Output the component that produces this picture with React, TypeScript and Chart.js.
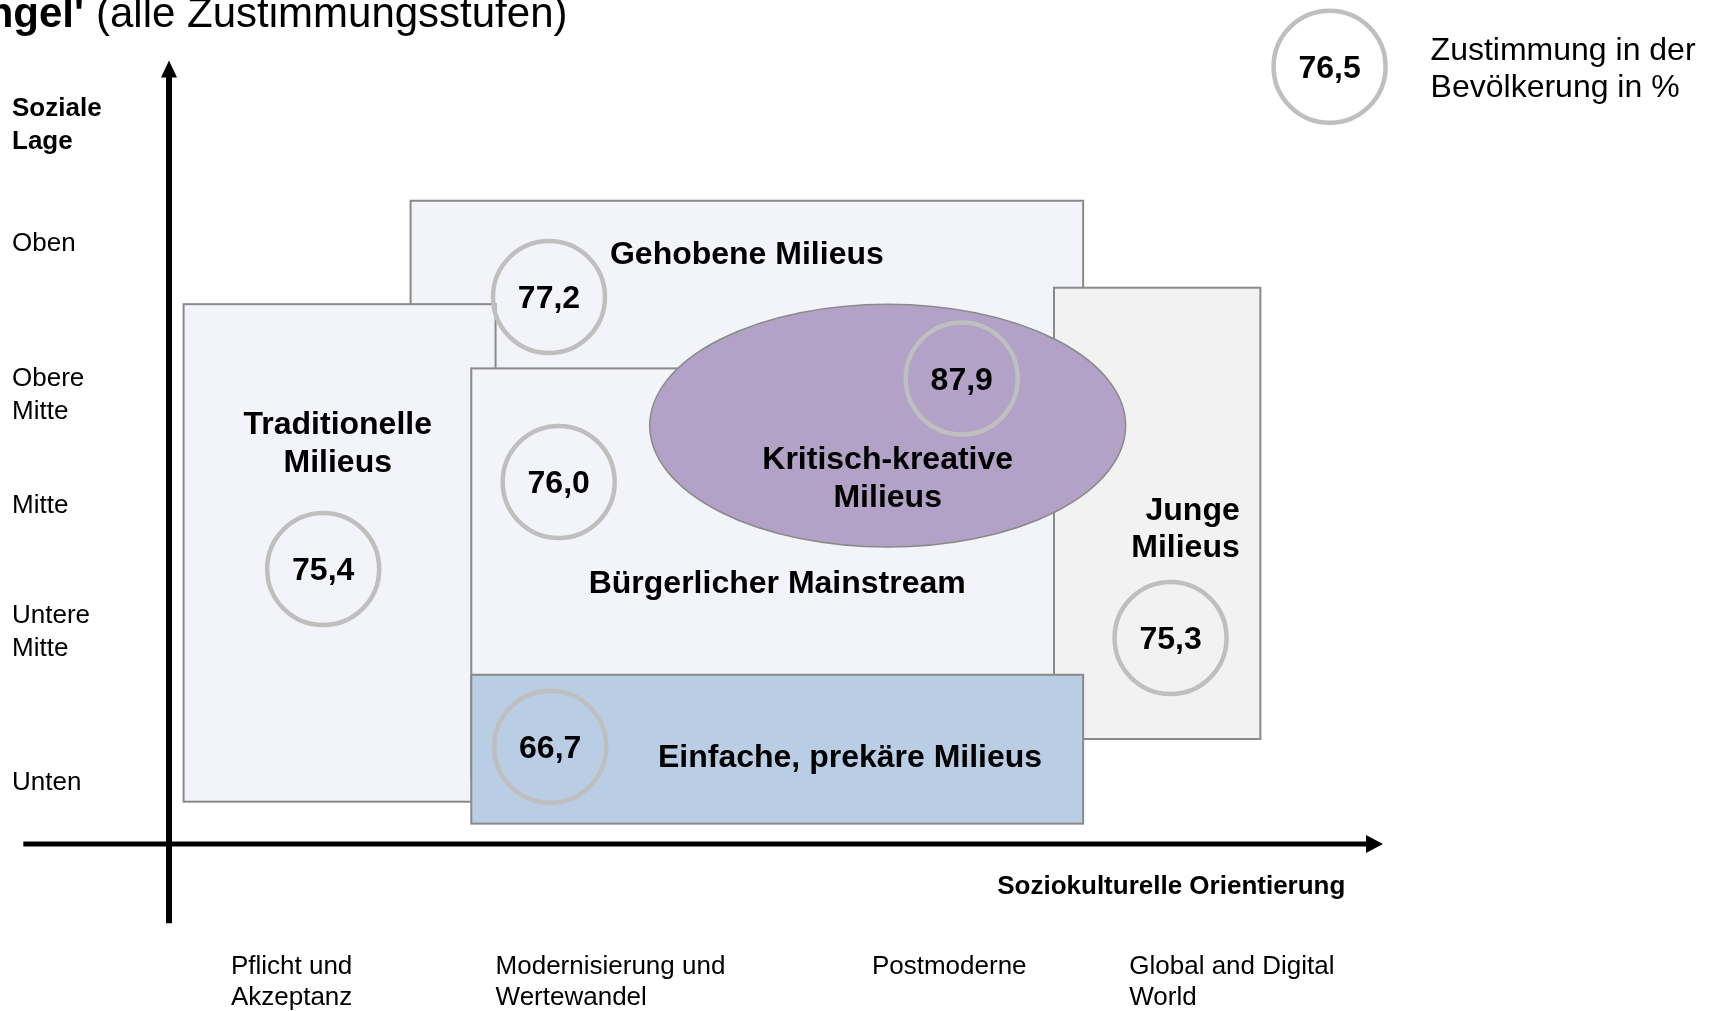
import React, { useEffect, useRef } from "react";
import { Chart, registerables } from "chart.js";

Chart.register(...registerables);

const FONT = '"Liberation Sans", Arial, Helvetica, sans-serif';

// ---------- DATA ----------
// Axes: x = Soziokulturelle Orientierung (0–100), y = Soziale Lage (0–100)
const milieuNames = [
  "Gehobene Milieus",
  "Traditionelle Milieus",
  "Bürgerlicher Mainstream",
  "Junge Milieus",
  "Einfache, prekäre Milieus",
  "Kritisch-kreative Milieus",
];
const milieuLabelLines = [
  ["Gehobene Milieus"],
  ["Traditionelle", "Milieus"],
  ["Bürgerlicher Mainstream"],
  ["Junge", "Milieus"],
  ["Einfache, prekäre Milieus"],
  ["Kritisch-kreative", "Milieus"],
];
const zustimmung = [77.2, 75.4, 76.0, 75.3, 66.7, 87.9];
const gesamtZustimmung = 76.5;
const legendLines = ["Zustimmung in der", "Bevölkerung in %"];

// extent of each milieu on the two axes
const orientFrom = [19.9, 1.2, 24.9, 72.9, 24.9, 39.6];
const orientTo = [75.3, 26.9, 74.6, 89.9, 75.3, 78.8];
const lageFrom = [55.0, 5.4, 8.2, 13.4, 2.6, 37.9];
const lageTo = [82.1, 68.9, 60.7, 71.0, 21.6, 68.9];

// where the approval circle sits for each milieu
const circleOrient = [31.3, 12.7, 32.1, 82.5, 31.4, 65.3];
const circleLage = [69.8, 35.1, 46.2, 26.3, 12.4, 59.4];
const totalOrient = 95.6;
const totalLage = 99.2;

// where each milieu's name sits
const labelOrient = [47.6, 13.9, 50.1, 88.2, 56.1, 59.2];
const labelLage = [75.1, 51.0, 33.2, 40.1, 10.9, 46.6];

// axis ticks
const xTickValues = [5.1, 26.9, 57.9, 79.1];
const xTickLabels = [
  ["Pflicht und", "Akzeptanz"],
  ["Modernisierung und", "Wertewandel"],
  ["Postmoderne"],
  ["Global and Digital", "World"],
];
const yTickValues = [76.6, 57.3, 43.2, 27.0, 7.8];
const yTickLabels = ["Oben", ["Obere", "Mitte"], "Mitte", ["Untere", "Mitte"], "Unten"];

const xAxisTitle = "Soziokulturelle Orientierung";
const yAxisTitle = ["Soziale", "Lage"];
const titleBold = "ngel'";
const titleRegular = "(alle Zustimmungsstufen)";

// ---------- STYLES ----------
const shapeKind = ["rect", "rect", "rect", "rect", "rect", "ellipse"];
const shapeFill = ["#f3f4f9", "#f3f4f9", "#f3f4f9", "#f2f2f2", "#b9cde5", "#b3a2c7"];
const shapeBorder = "#8a8a8a";
const circleColor = "#bfbfbf";
const TEXT_DY = 2.5;

const diagramPlugin = {
  id: "milieuDiagram",
  beforeDatasetsDraw(chart: any) {
    const { ctx } = chart;
    const xs = chart.scales.x;
    const ys = chart.scales.y;
    ctx.save();
    // axes with arrows
    ctx.fillStyle = "#000";
    ctx.strokeStyle = "#000";
    const y0 = ys.getPixelForValue(0);
    const xStart = xs.getPixelForValue(-12);
    const xTip = xs.getPixelForValue(100);
    ctx.lineWidth = 5;
    ctx.beginPath();
    ctx.moveTo(xStart, y0);
    ctx.lineTo(xTip - 12, y0);
    ctx.stroke();
    ctx.beginPath();
    ctx.moveTo(xTip, y0);
    ctx.lineTo(xTip - 17, y0 - 9);
    ctx.lineTo(xTip - 17, y0 + 9);
    ctx.closePath();
    ctx.fill();

    const x0 = xs.getPixelForValue(0);
    const yStart = ys.getPixelForValue(-10.1);
    const yTip = ys.getPixelForValue(100);
    ctx.lineWidth = 6;
    ctx.beginPath();
    ctx.moveTo(x0, yStart);
    ctx.lineTo(x0, yTip + 12);
    ctx.stroke();
    ctx.beginPath();
    ctx.moveTo(x0, yTip);
    ctx.lineTo(x0 - 8, yTip + 17);
    ctx.lineTo(x0 + 8, yTip + 17);
    ctx.closePath();
    ctx.fill();

    // milieu areas
    for (let i = 0; i < milieuNames.length; i++) {
      const l = xs.getPixelForValue(orientFrom[i]);
      const r = xs.getPixelForValue(orientTo[i]);
      const t = ys.getPixelForValue(lageTo[i]);
      const b = ys.getPixelForValue(lageFrom[i]);
      ctx.fillStyle = shapeFill[i];
      ctx.strokeStyle = shapeBorder;
      if (shapeKind[i] === "ellipse") {
        ctx.lineWidth = 1.5;
        ctx.beginPath();
        ctx.ellipse((l + r) / 2, (t + b) / 2, (r - l) / 2, (b - t) / 2, 0, 0, Math.PI * 2);
        ctx.fill();
        ctx.stroke();
      } else {
        ctx.lineWidth = 2;
        ctx.fillRect(l, t, r - l, b - t);
        ctx.strokeRect(l, t, r - l, b - t);
      }
    }
    ctx.restore();
  },
  afterDatasetsDraw(chart: any) {
    const { ctx } = chart;
    const xs = chart.scales.x;
    const ys = chart.scales.y;
    ctx.save();
    ctx.fillStyle = "#000";
    ctx.textBaseline = "middle";

    // milieu names
    ctx.font = `bold 32px ${FONT}`;
    for (let i = 0; i < milieuNames.length; i++) {
      const lines = milieuLabelLines[i];
      const px = xs.getPixelForValue(labelOrient[i]);
      const py = ys.getPixelForValue(labelLage[i]);
      const lh = i === 3 ? 37 : 38;
      ctx.textAlign = i === 3 ? "right" : "center";
      lines.forEach((ln, k) => {
        ctx.fillText(ln, px, py + (k - (lines.length - 1) / 2) * lh);
      });
    }

    // approval values
    ctx.textAlign = "center";
    ctx.font = `bold 32px ${FONT}`;
    const fmt = (v: number) => v.toFixed(1).replace(".", ",");
    for (let i = 0; i < zustimmung.length; i++) {
      ctx.fillText(fmt(zustimmung[i]), xs.getPixelForValue(circleOrient[i]), ys.getPixelForValue(circleLage[i]) + TEXT_DY);
    }
    const tx = xs.getPixelForValue(totalOrient);
    const ty = ys.getPixelForValue(totalLage);
    ctx.fillText(fmt(gesamtZustimmung), tx, ty + TEXT_DY);

    // legend text
    ctx.textAlign = "left";
    ctx.font = `32px ${FONT}`;
    legendLines.forEach((ln, k) => {
      ctx.fillText(ln, tx + 101, ty + 3 + (k - 0.5) * 37);
    });

    // axis titles
    ctx.font = `bold 26px ${FONT}`;
    ctx.textAlign = "left";
    const yTitleY = ys.getPixelForValue(92.1);
    yAxisTitle.forEach((ln, k) => {
      ctx.fillText(ln, ys.left, yTitleY + TEXT_DY + (k - 0.5) * 33);
    });
    ctx.textAlign = "right";
    ctx.fillText(xAxisTitle, xs.getPixelForValue(96.9), ys.getPixelForValue(-5.1) + TEXT_DY);

    // cropped title
    ctx.textBaseline = "alphabetic";
    ctx.font = `42px ${FONT}`;
    ctx.textAlign = "left";
    ctx.fillText(titleRegular, 96, 27);
    ctx.font = `bold 42px ${FONT}`;
    ctx.textAlign = "right";
    ctx.fillText(titleBold, 84, 27);
    ctx.restore();
  },
};

export default function App() {
  const ref = useRef<HTMLCanvasElement>(null);
  useEffect(() => {
    if (!ref.current) return;
    const chart = new Chart(ref.current, {
      type: "scatter",
      data: {
        datasets: [
          {
            label: "Zustimmung",
            data: zustimmung.map((_, i) => ({ x: circleOrient[i], y: circleLage[i] })),
            pointRadius: 56,
            pointHoverRadius: 56,
            pointBorderWidth: 4.5,
            pointHoverBorderWidth: 4.5,
            pointBackgroundColor: "rgba(0,0,0,0)",
            pointBorderColor: circleColor,
            clip: false as any,
          },
          {
            label: "Gesamt",
            data: [{ x: totalOrient, y: totalLage }],
            pointRadius: 56,
            pointHoverRadius: 56,
            pointBorderWidth: 4.5,
            pointHoverBorderWidth: 4.5,
            pointBackgroundColor: "rgba(0,0,0,0)",
            pointBorderColor: circleColor,
            clip: false as any,
          },
        ],
      },
      options: {
        animation: false,
        responsive: false,
        events: [],
        layout: { padding: { left: 12, top: 60, right: 333, bottom: 0 } },
        plugins: { legend: { display: false }, tooltip: { enabled: false }, title: { display: false } },
        scales: {
          x: {
            type: "linear",
            position: "bottom",
            min: 0,
            max: 100,
            grid: { display: false, drawTicks: false },
            border: { display: false },
            afterBuildTicks: (s: any) => {
              s.ticks = xTickValues.map((v) => ({ value: v }));
            },
            afterFit: (s: any) => {
              s.height = 167;
            },
            ticks: {
              autoSkip: false,
              maxRotation: 0,
              minRotation: 0,
              align: "start",
              padding: 107,
              color: "#000",
              font: { family: FONT, size: 26, lineHeight: 31 / 26 },
              callback: (_v: any, i: number) => xTickLabels[i],
            },
          },
          y: {
            type: "linear",
            position: "left",
            min: 0,
            max: 100,
            grid: { display: false, drawTicks: false },
            border: { display: false },
            afterBuildTicks: (s: any) => {
              s.ticks = yTickValues.map((v) => ({ value: v }));
            },
            afterFit: (s: any) => {
              s.width = 157;
            },
            ticks: {
              autoSkip: false,
              crossAlign: "far",
              padding: 0,
              color: "#000",
              font: { family: FONT, size: 26, lineHeight: 33 / 26 },
              callback: (_v: any, i: number) => yTickLabels[i],
            },
          },
        },
      } as any,
      plugins: [diagramPlugin],
    });
    return () => chart.destroy();
  }, []);
  return (
    <div style={{ position: "fixed", left: 0, top: 0, width: 1716, height: 1011, background: "#fff" }}>
      <canvas ref={ref} width={1716} height={1011} style={{ display: "block", width: 1716, height: 1011 }} />
    </div>
  );
}
